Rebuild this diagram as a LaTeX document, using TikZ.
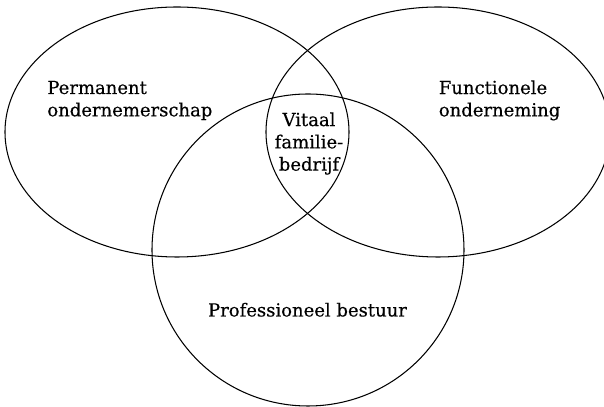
\documentclass[tikz,border=0pt]{standalone}
\usepackage{fontspec}
\setmainfont[FakeBold=0.4]{DejaVu Serif}
\begin{document}
\begin{tikzpicture}[scale=1, every node/.style={inner sep=0pt, font=\fontsize{10.25}{12.7}\selectfont}]
		\useasboundingbox (0, 0) rectangle (12.08, 8.14);
		% the three circles
		\draw[line width=.6pt] (3.54, 5.5) ellipse [x radius=3.44, y radius=2.5];
		\draw[line width=.6pt] (8.76, 5.5) ellipse [x radius=3.44, y radius=2.5];
		\draw[line width=.6pt] (6.16, 3.14) circle [radius=3.12];
		\node[anchor=north west, align=left] (perm) at (.94, 6.53) {Permanent\\ondernemerschap};
		\node[anchor=north west, align=left] (func) at (8.77, 6.54) {Functionele\\onderneming};
		\node[anchor=north, align=center] (vitaal) at (6.18, 5.9) {Vitaal\\familie-\\bedrijf};
		\node[anchor=base] (prof) at (6.15, 1.81) {Professioneel bestuur};
\end{tikzpicture}
\end{document}
